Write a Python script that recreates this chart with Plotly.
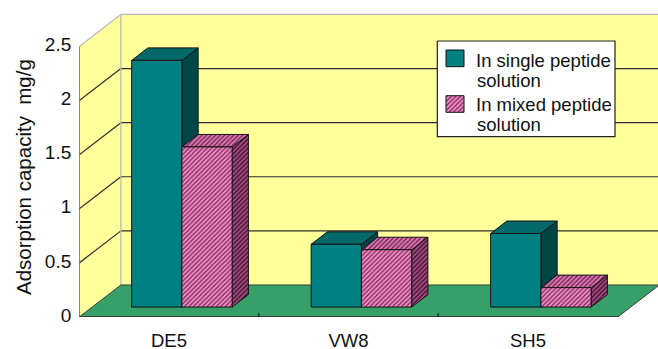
import plotly.graph_objects as go

# ---- data ---------------------------------------------------------------
categories = ["DE5", "VW8", "SH5"]
single_peptide = [2.28, 0.58, 0.68]
mixed_peptide = [1.48, 0.53, 0.18]
value_ticks = [0, 0.5, 1, 1.5, 2, 2.5]
value_tick_text = ["0", "0.5", "1", "1.5", "2", "2.5"]
legend_single = ["In single peptide", "solution"]
legend_mixed = ["In mixed peptide", "solution"]
axis_title = "Adsorption capacity  mg/g"

# ---- page / axis geometry ----------------------------------------------
W, H = 658, 349
FONT = "Arial, 'Liberation Sans', sans-serif"

CAT_PX = 179.5      # pixels per category
CAT0_PX = 169.0     # pixel of the first category on the front edge
VAL_PX = 108.2      # pixels per value unit
ZERO_PX = 317.0     # pixel row of value 0 on the front edge

X_LEFT = -0.5
X_RIGHT = (W - CAT0_PX) / CAT_PX
X_DOM0 = (CAT0_PX + X_LEFT * CAT_PX) / W
Y_DOM0 = (H - ZERO_PX) / H
Y_TOP = ZERO_PX / VAL_PX

# oblique depth: moving from the front to the back wall
DEPTH_X = 0.232     # in category units
DEPTH_Y = 0.296     # in value units
BAR_FRONT = 0.31    # depth fraction of a bar's front face
BAR_BACK = 0.70     # depth fraction of a bar's back face
BAR_W = 0.28
V_MAX = 2.5
X_END = len(categories) - 0.5

WALL = "#ffff9c"
FLOOR = "#36a068"
GRID = "#2e2e2e"
EDGE = "#b5b5b5"
OUTLINE = "#141414"

STYLES = {
    "single": dict(front=("#008080", None), top=("#006868", None), side=("#004646", None)),
    "mixed": dict(front=("#f08cc6", "#7a2658"), top=("#dc78b2", "#6a1e4c"),
                  side=("#a24c80", "#3a0c29")),
}


def depth(x, y, f):
    return x + f * DEPTH_X, y + f * DEPTH_Y


def face_trace(pts, colors, xa="x", ya="y"):
    bg, fg = colors
    xs = [p[0] for p in pts] + [pts[0][0]]
    ys = [p[1] for p in pts] + [pts[0][1]]
    kw = dict(x=xs, y=ys, mode="lines", fill="toself", fillcolor=bg,
              line=dict(color=OUTLINE, width=1), hoverinfo="skip",
              showlegend=False, xaxis=xa, yaxis=ya)
    if fg is not None:
        kw["fillpattern"] = dict(shape="/", bgcolor=bg, fgcolor=fg, size=3.2,
                                 solidity=0.38, fillmode="replace")
    return go.Scatter(**kw)


def bar_traces(x0, x1, v, style):
    f0, f1 = BAR_FRONT, BAR_BACK
    front = [depth(x0, 0, f0), depth(x1, 0, f0), depth(x1, v, f0), depth(x0, v, f0)]
    top = [depth(x0, v, f0), depth(x1, v, f0), depth(x1, v, f1), depth(x0, v, f1)]
    side = [depth(x1, 0, f0), depth(x1, 0, f1), depth(x1, v, f1), depth(x1, v, f0)]
    return [face_trace(side, style["side"]), face_trace(top, style["top"]),
            face_trace(front, style["front"])]


def path(pts):
    return "M " + " L ".join(f"{x},{y}" for x, y in pts) + " Z"


def seg(p, q, color, width=1.2):
    return dict(type="line", xref="x", yref="y", x0=p[0], y0=p[1], x1=q[0], y1=q[1],
                line=dict(color=color, width=width), layer="below")


fig = go.Figure()

# ---- walls, floor and gridlines ------------------------------------------
shapes = []
back_x0 = X_LEFT + DEPTH_X
shapes.append(dict(type="path", xref="x", yref="y", layer="below", fillcolor=WALL,
                   line=dict(width=0),
                   path=path([(back_x0, DEPTH_Y), (X_RIGHT + 1, DEPTH_Y),
                              (X_RIGHT + 1, V_MAX + DEPTH_Y), (back_x0, V_MAX + DEPTH_Y)])))
shapes.append(dict(type="path", xref="x", yref="y", layer="below", fillcolor=WALL,
                   line=dict(width=0),
                   path=path([(X_LEFT, 0), (X_LEFT, V_MAX), depth(X_LEFT, V_MAX, 1),
                              depth(X_LEFT, 0, 1)])))
for v in value_ticks[1:]:
    color = EDGE if v == V_MAX else GRID
    shapes.append(seg(depth(X_LEFT, v, 1), (X_RIGHT + 1, v + DEPTH_Y), color))
    shapes.append(seg((X_LEFT, v), depth(X_LEFT, v, 1), color))
shapes.append(seg(depth(X_LEFT, 0, 1), depth(X_LEFT, V_MAX, 1), EDGE))
shapes.append(dict(type="path", xref="x", yref="y", layer="below", fillcolor=FLOOR,
                   line=dict(color="#3c3c3c", width=1),
                   path=path([(X_LEFT, 0), (X_END, 0), depth(X_END, 0, 1),
                              depth(X_LEFT, 0, 1)])))
shapes.append(seg((X_LEFT, 0), (X_LEFT, V_MAX), "#555555", 1.3))
shapes.append(seg((X_LEFT, 0), (X_END, 0), "#333333", 1.3))
for i in range(1, len(categories)):
    shapes.append(seg((i - 0.5, 0), (i - 0.5, 0.035), "#222222", 1.3))

# ---- bars ----------------------------------------------------------------
for i, (s, m) in enumerate(zip(single_peptide, mixed_peptide)):
    for tr in bar_traces(i - BAR_W, i, s, STYLES["single"]):
        fig.add_trace(tr)
    for tr in bar_traces(i, i + BAR_W, m, STYLES["mixed"]):
        fig.add_trace(tr)

# ---- legend (drawn on a pixel-space overlay) ------------------------------
box = [(437.3, 41), (615, 41), (615, 136.7), (437.3, 136.7)]
fig.add_trace(go.Scatter(x=[p[0] for p in box] + [box[0][0]],
                         y=[p[1] for p in box] + [box[0][1]], mode="lines",
                         fill="toself", fillcolor="white",
                         line=dict(color="#222222", width=1.2), hoverinfo="skip",
                         showlegend=False, xaxis="x2", yaxis="y2"))
for (sy0, sy1), key in [((50, 66.7), "single"), ((95.7, 112.3), "mixed")]:
    sw = [(446, sy0), (464, sy0), (464, sy1), (446, sy1)]
    fig.add_trace(face_trace(sw, STYLES[key]["front"], "x2", "y2"))

annotations = []
for text, lx, ly in [(legend_single[0], 474.5, 60.3), (legend_single[1], 475.5, 80),
                     (legend_mixed[0], 474.5, 104.5), (legend_mixed[1], 476.5, 124.2)]:
    annotations.append(dict(text=text, x=lx / W, y=1 - ly / H, xref="paper", yref="paper",
                            xanchor="left", yanchor="middle", showarrow=False,
                            borderpad=0,
                            font=dict(family=FONT, size=18.5, color="#111111")))
annotations.append(dict(text=axis_title, x=23 / W, y=1 - 177 / H, xref="paper",
                        yref="paper", textangle=-90, showarrow=False,
                        xanchor="center", yanchor="middle",
                        font=dict(family=FONT, size=20.5, color="#111111")))

fig.update_layout(
    width=W, height=H, margin=dict(l=0, r=0, t=0, b=0, autoexpand=False),
    paper_bgcolor="white", plot_bgcolor="rgba(0,0,0,0)",
    showlegend=False, shapes=shapes, annotations=annotations,
    xaxis=dict(domain=[X_DOM0, 1], range=[X_LEFT, X_RIGHT], showgrid=False,
               zeroline=False, showline=False, ticks="", automargin=False,
               tickvals=list(range(len(categories))),
               ticktext=categories, ticklabelstandoff=10,
               tickfont=dict(family=FONT, size=18.5, color="#111111")),
    yaxis=dict(domain=[Y_DOM0, 1], range=[0, Y_TOP], showgrid=False, zeroline=False,
               showline=False, ticks="", automargin=False, tickvals=value_ticks,
               ticktext=value_tick_text, ticklabelstandoff=7, ticklabelshift=-2,
               tickfont=dict(family=FONT, size=19, color="#111111")),
    xaxis2=dict(domain=[0, 1], range=[0, W], anchor="y2", visible=False),
    yaxis2=dict(domain=[0, 1], range=[H, 0], anchor="x2", visible=False),
)

fig.write_html("out.html")
